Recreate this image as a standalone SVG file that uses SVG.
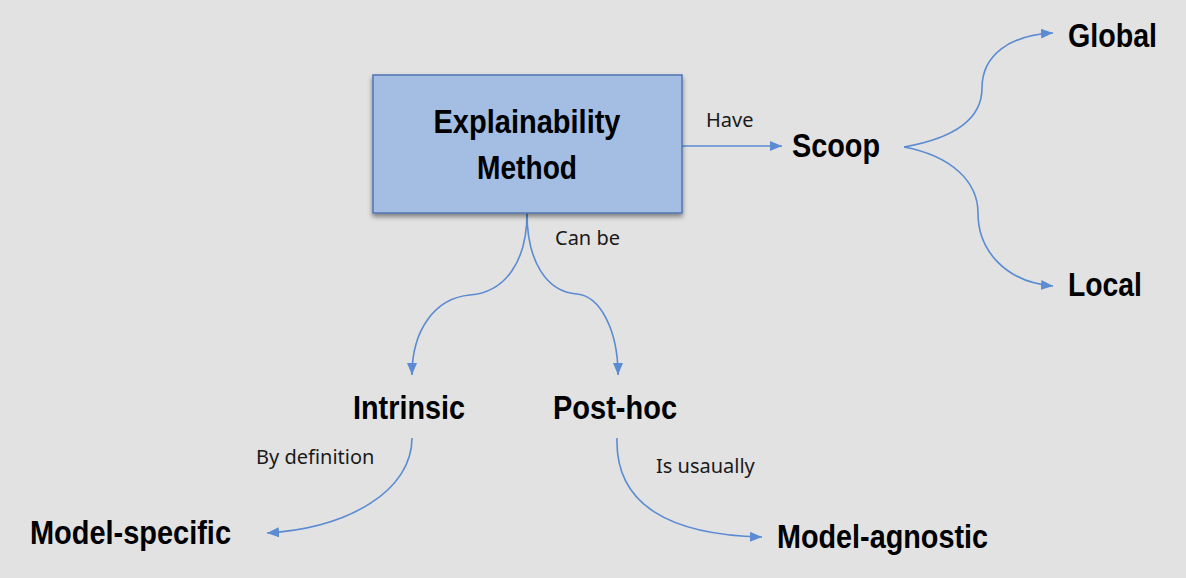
<svg xmlns="http://www.w3.org/2000/svg" width="1186" height="578" viewBox="0 0 1186 578">
  <defs>
    <style>
      .bold { font-family: "Liberation Sans", Arial, sans-serif; font-weight: bold; font-size: 33px; fill: #000; }
      .lbl { font-family: "Noto Sans", "Open Sans", sans-serif; font-size: 20px; fill: #1a1a1a; }
      .conn { fill: none; stroke: #5B8BD2; stroke-width: 1.6; marker-end: url(#arrow); }
    </style>
    <marker id="arrow" viewBox="0 0 12 10" refX="12" refY="5" markerWidth="12" markerHeight="10" markerUnits="userSpaceOnUse" orient="auto">
      <path d="M0,0 L12,5 L0,10 Z" fill="#5B8BD2"/>
    </marker>
    <filter id="shadow" x="-10%" y="-10%" width="120%" height="130%">
      <feGaussianBlur in="SourceAlpha" stdDeviation="2.5"/>
      <feOffset dx="0" dy="3" result="b"/>
      <feComponentTransfer><feFuncA type="linear" slope="0.45"/></feComponentTransfer>
      <feMerge><feMergeNode/><feMergeNode in="SourceGraphic"/></feMerge>
    </filter>
  </defs>
  <rect x="0" y="0" width="1186" height="578" fill="#E2E2E2"/>

  <g id="connectors">
    <path class="conn" d="M682,146 L782,146"/>
    <path class="conn" d="M904,147 C955,138 982,118 982,88 C982,55 1010,35 1053,33"/>
    <path class="conn" d="M904,147 C952,156 978,182 978,213 C978,250 1005,282 1053,286"/>
    <path class="conn" d="M527,213 C527,262 505,292 470,295 C435,298 412,330 412,375"/>
    <path class="conn" d="M527,213 C527,262 547,292 577,294 C600,296 618,330 618,375"/>
    <path class="conn" d="M412,438 C412,490 350,528 267,533"/>
    <path class="conn" d="M617,438 C615,505 670,535 762,537"/>
  </g>

  <g id="explainability-method">
    <rect x="373" y="75" width="309" height="138" fill="#A3BDE3" stroke="#5075B2" stroke-width="1.5" filter="url(#shadow)"/>
    <text class="bold" x="527" y="133" text-anchor="middle" textLength="187" lengthAdjust="spacingAndGlyphs">Explainability</text>
    <text class="bold" x="527" y="179" text-anchor="middle" textLength="100" lengthAdjust="spacingAndGlyphs">Method</text>
  </g>
  <g id="label-have"><text class="lbl" x="706" y="127">Have</text></g>
  <g id="scoop"><text class="bold" x="792" y="157" textLength="88" lengthAdjust="spacingAndGlyphs">Scoop</text></g>
  <g id="global"><text class="bold" x="1068" y="47" textLength="89" lengthAdjust="spacingAndGlyphs">Global</text></g>
  <g id="local"><text class="bold" x="1068" y="296" textLength="74" lengthAdjust="spacingAndGlyphs">Local</text></g>
  <g id="label-can-be"><text class="lbl" x="555" y="245">Can be</text></g>
  <g id="intrinsic"><text class="bold" x="353" y="419" textLength="112" lengthAdjust="spacingAndGlyphs">Intrinsic</text></g>
  <g id="post-hoc"><text class="bold" x="553" y="419" textLength="124" lengthAdjust="spacingAndGlyphs">Post-hoc</text></g>
  <g id="label-by-definition"><text class="lbl" x="256" y="464">By definition</text></g>
  <g id="model-specific"><text class="bold" x="30" y="544" textLength="201" lengthAdjust="spacingAndGlyphs">Model-specific</text></g>
  <g id="label-is-usaually"><text class="lbl" x="656" y="473">Is usaually</text></g>
  <g id="model-agnostic"><text class="bold" x="777" y="548" textLength="211" lengthAdjust="spacingAndGlyphs">Model-agnostic</text></g>
</svg>
